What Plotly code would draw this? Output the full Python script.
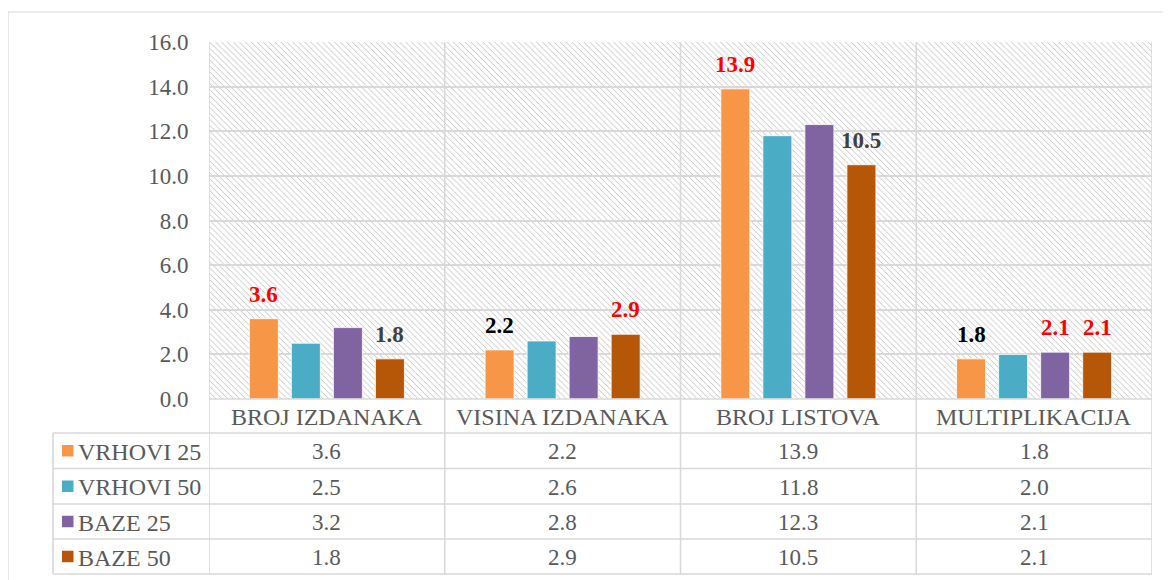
import plotly.graph_objects as go

# ---------------- data ----------------
categories = ["BROJ IZDANAKA", "VISINA IZDANAKA", "BROJ LISTOVA", "MULTIPLIKACIJA"]
series_names = ["VRHOVI 25", "VRHOVI 50", "BAZE 25", "BAZE 50"]
vrhovi_25 = [3.6, 2.2, 13.9, 1.8]
vrhovi_50 = [2.5, 2.6, 11.8, 2.0]
baze_25 = [3.2, 2.8, 12.3, 2.1]
baze_50 = [1.8, 2.9, 10.5, 2.1]
series_values = [vrhovi_25, vrhovi_50, baze_25, baze_50]
y_ticks = [0, 2, 4, 6, 8, 10, 12, 14, 16]

# which data labels are shown above bars, and their colours (None = no label)
RED, DARK, BLACK = "#FF0000", "#404040", "#000000"
label_colors = [
    [RED, BLACK, RED, BLACK],
    [None, None, None, None],
    [None, None, None, RED],
    [DARK, RED, DARK, RED],
]

# ---------------- style ----------------
bar_colors = ["#F79646", "#4BACC6", "#8064A2", "#B65708"]
GRID = "#D9D9D9"
TXT = "#595959"
FONT = "Liberation Serif, Times New Roman, serif"
FS = 23
FS_TXT = 24

OFF = 8  # page body margin
W, H = 1171 - OFF, 580 - OFF
ML, MR, MT, MB = 209 - OFF, 19, 42 - OFF, 181
PW, PH = W - ML - MR, H - MT - MB
AXIS_PX = 42 + PH  # screen y pixel of zero line

def xp(px):  # screen px -> paper
    return (px - OFF - ML) / PW

def yp(py):
    return (AXIS_PX - py) / PH

BARGAP = 0.287
BARGROUPGAP = 0.31

row_lines = [AXIS_PX, 433, 468.5, 504, 539, 574]
table_left = 53

fig = go.Figure()
for name, vals, col in zip(series_names, series_values, bar_colors):
    fig.add_trace(go.Bar(
        x=categories, y=vals, name=name,
        marker=dict(color=col, line=dict(color="white", width=0.8)),
        showlegend=False, hoverinfo="skip",
    ))

annotations = []
n = len(series_names)
slot = (1 - BARGAP) / n
# data labels
for i, (vals, cols) in enumerate(zip(series_values, label_colors)):
    for j, (v, c) in enumerate(zip(vals, cols)):
        if c is None:
            continue
        annotations.append(dict(
            x=j + (i - (n - 1) / 2) * slot, y=v, xref="x", yref="y",
            text=f"<b>{v:.1f}</b>", showarrow=False, yanchor="bottom",
            yshift=10, font=dict(family=FONT, size=FS, color=c),
        ))

# category row of the table
cat_mid = (row_lines[0] + row_lines[1]) / 2 + 1
for j, c in enumerate(categories):
    annotations.append(dict(
        x=j, y=yp(cat_mid), xref="x", yref="paper", text=c, showarrow=False,
        yanchor="middle", font=dict(family=FONT, size=FS_TXT, color=TXT),
    ))

shapes = []
# value rows
for i, (name, vals, col) in enumerate(zip(series_names, series_values, bar_colors)):
    mid = (row_lines[i + 1] + row_lines[i + 2]) / 2 + 1
    for j, v in enumerate(vals):
        annotations.append(dict(
            x=j, y=yp(mid), xref="x", yref="paper", text=f"{v:.1f}",
            showarrow=False, yanchor="middle",
            font=dict(family=FONT, size=FS, color=TXT),
        ))
    annotations.append(dict(
        x=xp(76), y=yp(mid), xref="paper", yref="paper", text=name,
        showarrow=False, xanchor="left", yanchor="middle",
        font=dict(family=FONT, size=FS_TXT, color=TXT),
    ))
    sq = 11.5
    cy = mid - 1
    shapes.append(dict(
        type="rect", xref="paper", yref="paper",
        x0=xp(62), x1=xp(62 + sq), y0=yp(cy - sq / 2), y1=yp(cy + sq / 2),
        fillcolor=col, line=dict(width=0),
    ))

# table horizontal lines
for k, py in enumerate(row_lines):
    shapes.append(dict(
        type="line", xref="paper", yref="paper",
        x0=0 if k == 0 else xp(table_left), x1=1, y0=yp(py), y1=yp(py),
        line=dict(color=GRID, width=1.6),
    ))
# vertical category boundaries (through plot and table)
for b in range(len(categories) + 1):
    shapes.append(dict(
        type="line", xref="x", yref="paper",
        x0=b - 0.5, x1=b - 0.5, y0=1, y1=yp(row_lines[-1]),
        line=dict(color=GRID, width=1.6),
    ))
# table left border
shapes.append(dict(
    type="line", xref="paper", yref="paper",
    x0=xp(table_left), x1=xp(table_left), y0=yp(row_lines[1]), y1=yp(row_lines[-1]),
    line=dict(color=GRID, width=1.6),
))
# outer chart border
shapes.append(dict(
    type="rect", xref="paper", yref="paper",
    x0=xp(8), x1=xp(1171 + 10), y0=yp(580 + 10), y1=yp(12),
    line=dict(color=GRID, width=1.2), fillcolor="rgba(0,0,0,0)", layer="below",
))

hatch_svg = (
    "data:image/svg+xml;utf8,"
    "<svg xmlns='http://www.w3.org/2000/svg' width='943' height='357'>"
    "<defs><pattern id='p' width='4.2' height='4.2' patternUnits='userSpaceOnUse' "
    "patternTransform='rotate(-45)'>"
    "<line x1='0' y1='0' x2='0' y2='4.2' stroke='%23D0D0D0' stroke-width='1.7'/>"
    "</pattern></defs><rect width='100%' height='100%' fill='url(%23p)'/></svg>"
)

fig.update_layout(
    width=W, height=H,
    margin=dict(l=ML, r=MR, t=MT, b=MB, pad=0),
    paper_bgcolor="white", plot_bgcolor="rgba(0,0,0,0)",
    barmode="group", bargap=BARGAP, bargroupgap=BARGROUPGAP,
    font=dict(family=FONT, size=FS, color=TXT),
    xaxis=dict(type="category", categoryorder="array", categoryarray=categories,
               range=[-0.5, len(categories) - 0.5], showticklabels=False,
               showgrid=False, zeroline=False, showline=False, ticks=""),
    yaxis=dict(range=[0, 16], tickvals=y_ticks, tickformat=".1f",
               showgrid=True, gridcolor=GRID, gridwidth=1.6, zeroline=False,
               showline=False, ticks="outside", ticklen=15,
               tickcolor="rgba(0,0,0,0)",
               tickfont=dict(family=FONT, size=FS, color=TXT)),
    images=[dict(source=hatch_svg, xref="paper", yref="paper", x=0, y=1,
                 sizex=1, sizey=1, sizing="stretch", layer="below",
                 xanchor="left", yanchor="top")],
    annotations=annotations, shapes=shapes,
)

fig.write_html("out.html")
